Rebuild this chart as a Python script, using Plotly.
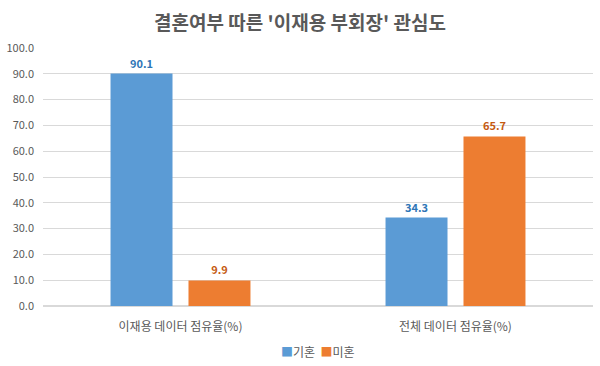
import plotly.graph_objects as go

categories = ["이재용 데이터 점유율(%)", "전체 데이터 점유율(%)"]
married = [90.1, 34.3]
single = [9.9, 65.7]
series_names = ["기혼", "미혼"]
series_colors = ["#5B9BD5", "#ED7D31"]
label_colors = ["#2E75B6", "#C55A11"]
y_ticks = [0, 10, 20, 30, 40, 50, 60, 70, 80, 90, 100]

FONT = "Noto Sans CJK KR"

fig = go.Figure()
for name, vals, col, lcol in zip(series_names, [married, single], series_colors, label_colors):
    fig.add_trace(go.Bar(
        x=categories, y=vals, name=name,
        marker=dict(color=col, line=dict(width=0)),
        text=[f"<b>{v:.1f}</b>" for v in vals], textposition="outside",
        textfont=dict(color=lcol, size=11, family=FONT),
        cliponaxis=False,
    ))

legend_text = "  ".join(
    f"<span style='color:{c}'>■</span>{n}" for n, c in zip(series_names, series_colors)
)

fig.update_layout(
    width=600, height=366,
    paper_bgcolor="white", plot_bgcolor="white",
    margin=dict(l=43, r=7, t=48, b=60, autoexpand=False),
    title=dict(text="<b>결혼여부 따른 '이재용 부회장' 관심도</b>", x=0.5, xanchor="center",
               y=0.937, yanchor="middle",
               font=dict(family=FONT, size=19, color="#595959")),
    barmode="group", bargap=0.433, bargroupgap=0.205,
    font=dict(family=FONT, size=11, color="#595959"),
    showlegend=False,
    annotations=[dict(text=legend_text, x=0.5, xref="paper", y=-0.178, yref="paper",
                      xanchor="center", yanchor="middle", showarrow=False,
                      font=dict(family=FONT, size=12, color="#595959"))],
)
fig.update_yaxes(range=[0, 100], tickvals=y_ticks, tickformat=".1f",
                 showgrid=True, gridcolor="#D9D9D9", gridwidth=1,
                 zeroline=True, zerolinecolor="#D9D9D9", showline=False,
                 tickfont=dict(size=11, color="#595959"), ticks="",
                 ticklabelstandoff=8, automargin=False)
fig.update_xaxes(showgrid=False, showline=False, ticks="", automargin=False,
                 ticklabelstandoff=12,
                 tickfont=dict(size=12, color="#595959"))

fig.write_html("out.html", config={"displayModeBar": False},
               post_script="document.body.style.margin='0';")
